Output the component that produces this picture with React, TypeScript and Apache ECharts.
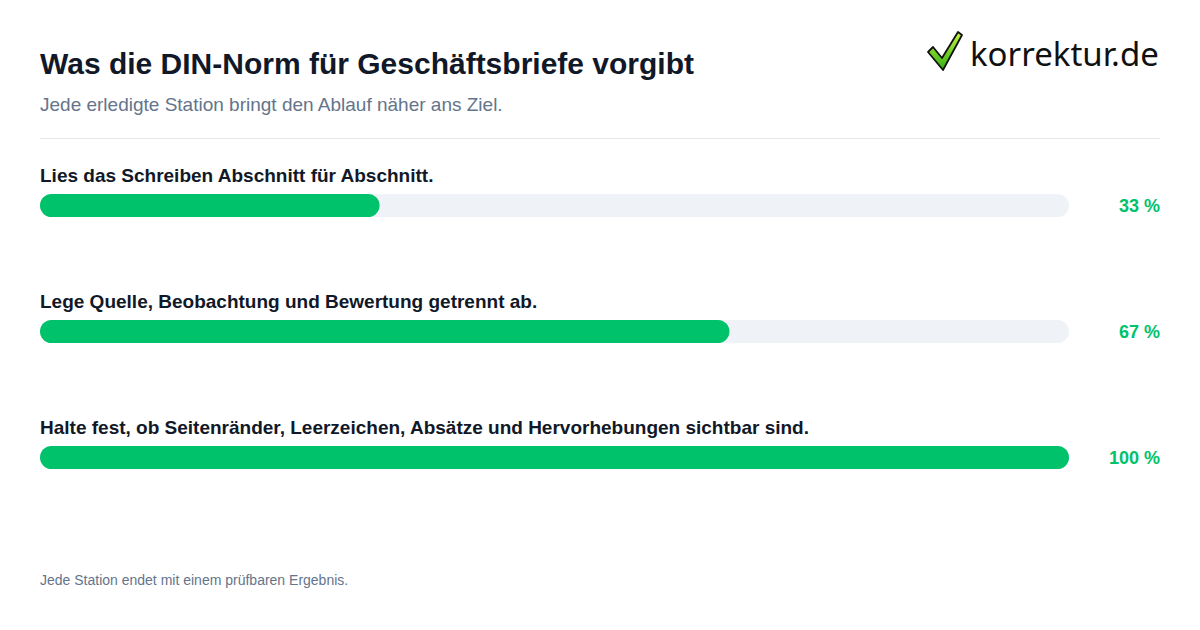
import React, { useEffect, useRef } from "react";
import * as echarts from "echarts";

const categories = [
  "Lies das Schreiben Abschnitt für Abschnitt.",
  "Lege Quelle, Beobachtung und Bewertung getrennt ab.",
  "Halte fest, ob Seitenränder, Leerzeichen, Absätze und Hervorhebungen sichtbar sind.",
];
const progress = [33, 67, 100];
const trackMax = [100, 100, 100];

const FONT = "'Liberation Sans', Arial, Helvetica, sans-serif";
const GREEN = "#00c26b";

export default function App() {
  const ref = useRef<HTMLDivElement>(null);
  useEffect(() => {
    if (!ref.current) return;
    const chart = echarts.init(ref.current, null, { renderer: "svg" });
    chart.setOption({
      animation: false,
      backgroundColor: "#ffffff",
      grid: { left: 40, right: 131, top: 142.5, height: 378, containLabel: false },
      xAxis: { type: "value", min: 0, max: 100, show: false },
      yAxis: {
        type: "category",
        data: categories,
        inverse: true,
        show: false,
      },
      series: [
        {
          type: "bar",
          data: trackMax,
          barWidth: 23,
          barGap: "-100%",
          silent: true,
          itemStyle: { color: "#eff3f8", borderRadius: 11.5 },
          label: {
            show: true,
            position: [0, -19],
            align: "left",
            verticalAlign: "middle",
            formatter: (p: any) => categories[p.dataIndex],
            fontFamily: FONT,
            fontSize: 19,
            fontWeight: "bold",
            color: "#111827",
          },
          z: 1,
        },
        {
          type: "bar",
          data: progress,
          barWidth: 23,
          barGap: "-100%",
          itemStyle: { color: GREEN, borderRadius: 11.5 },
          label: {
            show: true,
            position: [1120, 12],
            align: "right",
            verticalAlign: "middle",
            formatter: (p: any) => `${p.value} %`,
            fontFamily: FONT,
            fontSize: 18,
            fontWeight: "bold",
            color: GREEN,
          },
          z: 2,
        },
      ],
      graphic: [
        {
          type: "text",
          x: 40,
          y: 63,
          style: {
            text: "Was die DIN-Norm für Geschäftsbriefe vorgibt",
            fontFamily: FONT,
            fontSize: 30,
            fontWeight: "bold",
            fill: "#111827",
            verticalAlign: "middle",
          },
        },
        {
          type: "text",
          x: 40,
          y: 104,
          style: {
            text: "Jede erledigte Station bringt den Ablauf näher ans Ziel.",
            fontFamily: FONT,
            fontSize: 19,
            fill: "#64748b",
            verticalAlign: "middle",
          },
        },
        {
          type: "line",
          shape: { x1: 40, y1: 138.5, x2: 1160, y2: 138.5 },
          style: { stroke: "#e5e7eb", lineWidth: 1 },
        },
        {
          type: "text",
          x: 40,
          y: 580,
          style: {
            text: "Jede Station endet mit einem prüfbaren Ergebnis.",
            fontFamily: FONT,
            fontSize: 14,
            fill: "#64748b",
            verticalAlign: "middle",
          },
        },
        {
          type: "polygon",
          shape: {
            points: [
              [928, 52],
              [933, 47],
              [942, 58],
              [958, 32],
              [962, 35],
              [943, 70],
            ],
          },
          style: {
            fill: new echarts.graphic.LinearGradient(0, 0, 0, 1, [
              { offset: 0, color: "#c8f53f" },
              { offset: 1, color: "#2fae14" },
            ]),
            stroke: "#111111",
            lineWidth: 1.8,
            lineJoin: "round",
          },
        },
        {
          type: "text",
          x: 970,
          y: 53,
          style: {
            text: "korrektur.de",
            fontFamily: "'Noto Sans', sans-serif",
            fontSize: 33,
            fill: "#111111",
            verticalAlign: "middle",
          },
        },
      ],
    });
    return () => chart.dispose();
  }, []);
  return (
    <div
      ref={ref}
      style={{ position: "fixed", left: 0, top: 0, width: 1200, height: 630 }}
    />
  );
}
